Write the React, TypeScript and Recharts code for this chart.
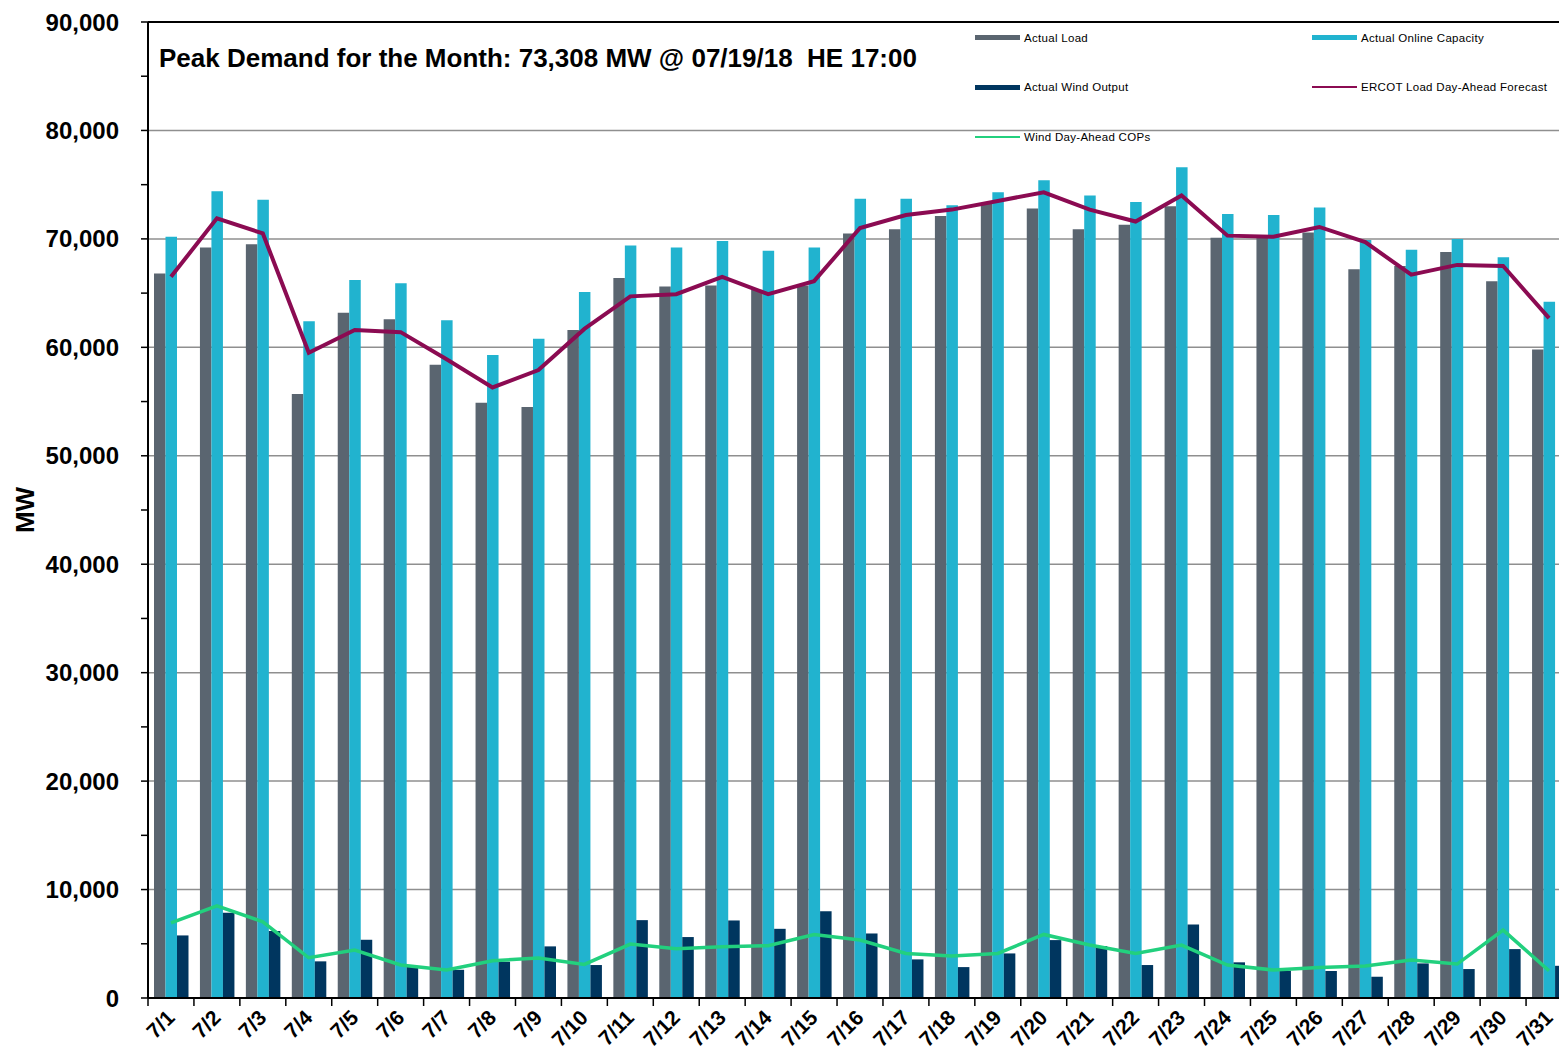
import React from 'react';
import {
  ComposedChart,
  Bar,
  Line,
  XAxis,
  YAxis,
  CartesianGrid,
  ReferenceLine,
} from 'recharts';

const days = [
  '7/1', '7/2', '7/3', '7/4', '7/5', '7/6', '7/7', '7/8', '7/9', '7/10',
  '7/11', '7/12', '7/13', '7/14', '7/15', '7/16', '7/17', '7/18', '7/19', '7/20',
  '7/21', '7/22', '7/23', '7/24', '7/25', '7/26', '7/27', '7/28', '7/29', '7/30', '7/31',
];

const actualLoad = [
  66800, 69200, 69500, 55700, 63200, 62600, 58400, 54900, 54500, 61600,
  66400, 65600, 65700, 65300, 65700, 70500, 70900, 72100, 73308, 72800,
  70900, 71300, 73000, 70100, 70200, 70600, 67200, 67500, 68800, 66100, 59800,
];

const onlineCapacity = [
  70200, 74400, 73600, 62400, 66200, 65900, 62500, 59300, 60800, 65100,
  69400, 69200, 69800, 68900, 69200, 73700, 73700, 73100, 74300, 75400,
  74000, 73400, 76600, 72300, 72200, 72900, 69900, 69000, 70000, 68300, 64200,
];

const windOutput = [
  5770, 7860, 6170, 3380, 5370, 2900, 2600, 3350, 4760, 3040,
  7180, 5620, 7150, 6380, 8010, 5950, 3560, 2850, 4110, 5340,
  4790, 3040, 6780, 3290, 2520, 2490, 1960, 3190, 2670, 4510, 2970,
];

const loadForecast = [
  66500, 71900, 70500, 59500, 61600, 61400, 58900, 56300, 57900, 61700,
  64700, 64900, 66500, 64900, 66100, 71000, 72200, 72700, 73500, 74300,
  72700, 71600, 74000, 70300, 70200, 71100, 69700, 66700, 67600, 67500, 62700,
];

const windCops = [
  6930, 8500, 7030, 3710, 4420, 3040, 2580, 3440, 3680, 3100,
  4970, 4540, 4730, 4820, 5860, 5340, 4110, 3870, 4110, 5860,
  4880, 4110, 4880, 3040, 2580, 2820, 2950, 3500, 3130, 6260, 2510,
];

const yTicks = [
  0, 5000, 10000, 15000, 20000, 25000, 30000, 35000, 40000, 45000,
  50000, 55000, 60000, 65000, 70000, 75000, 80000, 85000, 90000,
];
const gridValues = [10000, 20000, 30000, 40000, 50000, 60000, 70000, 80000];

const data = days.map((day, i) => ({
  day,
  load: actualLoad[i],
  capacity: onlineCapacity[i],
  wind: windOutput[i],
  forecast: loadForecast[i],
  cops: windCops[i],
}));

const series = [
  { name: 'Actual Load', color: '#5a6570', bar: true },
  { name: 'Actual Online Capacity', color: '#21b3cf', bar: true },
  { name: 'Actual Wind Output', color: '#00365f', bar: true },
  { name: 'ERCOT Load Day-Ahead Forecast', color: '#8b0b52', bar: false },
  { name: 'Wind Day-Ahead COPs', color: '#22d07e', bar: false },
];

const CHART_W = 1590;
const CHART_H = 1051;
const X_AXIS_H = 30;
const MARGIN = { top: 22, right: 18, bottom: 53 - X_AXIS_H, left: 0 };
const Y_AXIS_W = 148;
const BAND = (CHART_W - MARGIN.left - MARGIN.right - Y_AXIS_W) / days.length;

const font = '"Liberation Sans", Arial, sans-serif';

const DayTick = (props: any) => {
  const { x, y, payload } = props;
  const lx = x - BAND / 2;
  const tx = x + 5;
  const ty = y + 21;
  return (
    <g>
      <line x1={lx} x2={lx} y1={y} y2={y + 8} stroke="#000" strokeWidth={1.5} />
      <text
        x={tx}
        y={ty}
        textAnchor="end"
        transform={`rotate(-45, ${tx}, ${ty})`}
        fontSize={21}
        fontWeight="bold"
        fontFamily={font}
        fill="#000"
      >
        {payload.value}
      </text>
    </g>
  );
};

const MwLabel = (props: any) => {
  const vb = props.viewBox || {};
  const x = (vb.x || 0) + 34;
  const y = (vb.y || 0) + (vb.height || 0) / 2;
  return (
    <text
      x={x}
      y={y}
      textAnchor="middle"
      transform={`rotate(-90, ${x}, ${y})`}
      fontSize={26}
      fontWeight="bold"
      fontFamily={font}
      fill="#000"
    >
      MW
    </text>
  );
};

const fmt = (v: number) => (v % 10000 === 0 ? v.toLocaleString('en-US') : '');

export default function App() {
  return (
    <div
      style={{
        position: 'absolute',
        left: 0,
        top: 0,
        width: 1559,
        height: 1051,
        overflow: 'hidden',
        background: '#fff',
        fontFamily: font,
      }}
    >
      <ComposedChart
        width={CHART_W}
        height={CHART_H}
        data={data}
        margin={MARGIN}
        barSize={11.5}
        barGap={0}
      >
        <CartesianGrid
          vertical={false}
          horizontalValues={gridValues}
          stroke="#8f8f8f"
          strokeWidth={1.5}
        />
        <XAxis
          dataKey="day"
          height={X_AXIS_H}
          interval={0}
          tickLine={false}
          tickSize={0}
          tickMargin={0}
          axisLine={{ stroke: '#000', strokeWidth: 2 }}
          tick={<DayTick />}
        />
        <YAxis
          width={Y_AXIS_W}
          domain={[0, 90000]}
          ticks={yTicks}
          interval={0}
          tickFormatter={fmt}
          tickSize={7}
          tickMargin={22}
          axisLine={{ stroke: '#000', strokeWidth: 2 }}
          tickLine={{ stroke: '#000', strokeWidth: 1.5 }}
          tick={{ fill: '#000', fontSize: 24, fontWeight: 'bold', fontFamily: font }}
          label={<MwLabel />}
        />
        <Bar dataKey="load" name={series[0].name} fill={series[0].color} isAnimationActive={false} />
        <Bar dataKey="capacity" name={series[1].name} fill={series[1].color} isAnimationActive={false} />
        <Bar dataKey="wind" name={series[2].name} fill={series[2].color} isAnimationActive={false} />
        <Line
          dataKey="forecast"
          name={series[3].name}
          stroke={series[3].color}
          strokeWidth={4}
          dot={false}
          type="linear"
          isAnimationActive={false}
        />
        <Line
          dataKey="cops"
          name={series[4].name}
          stroke={series[4].color}
          strokeWidth={3.5}
          dot={false}
          type="linear"
          isAnimationActive={false}
        />
        <ReferenceLine y={90000} stroke="#000" strokeWidth={2} />
      </ComposedChart>

      <div
        style={{
          position: 'absolute',
          left: 159,
          top: 42,
          fontSize: 26,
          fontWeight: 'bold',
          whiteSpace: 'pre',
          color: '#000',
          lineHeight: '32px',
        }}
      >
        {'Peak Demand for the Month: 73,308 MW @ 07/19/18  HE 17:00'}
      </div>

      <div
        style={{
          position: 'absolute',
          left: 975,
          top: 13,
          display: 'grid',
          gridTemplateColumns: '337px 240px',
          gridAutoRows: '49.5px',
          fontSize: 11.5,
          color: '#000',
          letterSpacing: 0.3,
        }}
      >
        {series.map((s) => (
          <div key={s.name} style={{ display: 'flex', alignItems: 'center', whiteSpace: 'nowrap' }}>
            <span
              style={{
                display: 'inline-block',
                width: 45,
                height: s.bar ? 5 : 2,
                background: s.color,
                marginRight: 4,
              }}
            />
            {s.name}
          </div>
        ))}
      </div>
    </div>
  );
}
